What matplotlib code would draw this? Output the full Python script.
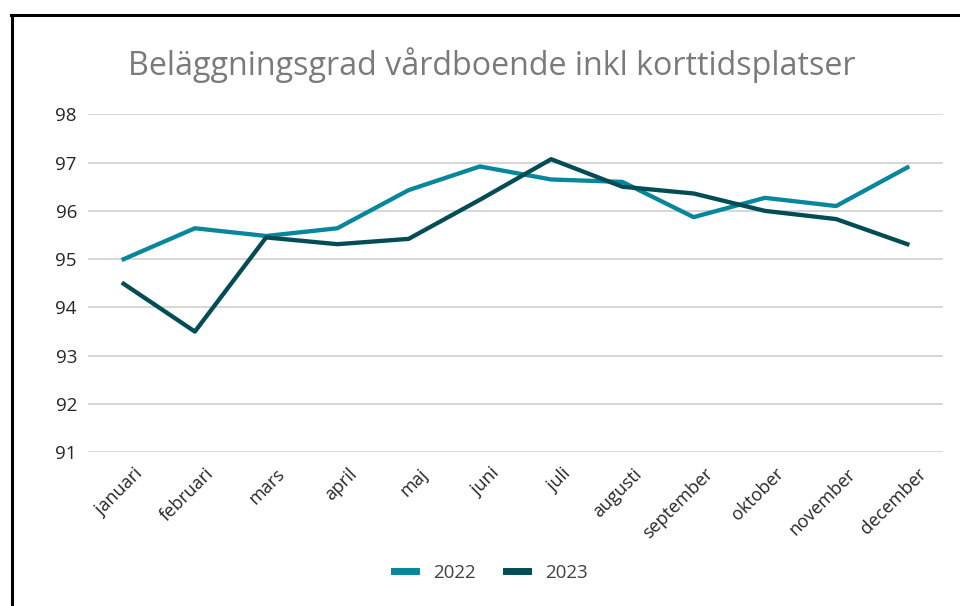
import matplotlib
matplotlib.use("Agg")
import matplotlib.pyplot as plt
import matplotlib.transforms as mtransforms
from matplotlib.lines import Line2D

plt.rcParams['font.family'] = ['Open Sans', 'DejaVu Sans']

months = ["januari", "februari", "mars", "april", "maj", "juni",
          "juli", "augusti", "september", "oktober", "november", "december"]
y2022 = [95.0, 95.64, 95.48, 95.64, 96.43, 96.92, 96.65, 96.6, 95.87, 96.27, 96.1, 96.9]
y2023 = [94.49, 93.5, 95.45, 95.31, 95.42, 96.23, 97.07, 96.5, 96.36, 96.0, 95.83, 95.31]
yticks = [91, 92, 93, 94, 95, 96, 97, 98]

C2022 = "#08879c"
C2023 = "#024c55"

fig = plt.figure(figsize=(9.6, 6.06), dpi=100)
W, H = 960, 606
# axes box in pixels: x 88..943, y 114..452
ax = fig.add_axes([88 / W, 1 - 452.3 / H, (943 - 88) / W, (452.3 - 114.3) / H])

x = list(range(len(months)))
ax.plot(x, y2022, color=C2022, lw=3.1, label="2022")
ax.plot(x, y2023, color=C2023, lw=3.1, label="2023")

ax.set_xlim(-0.5, len(months) - 0.5)
ax.set_ylim(91, 98)
ax.set_yticks(yticks)
ax.set_xticks(x)
ax.set_xticklabels(months, rotation=45, ha="right", rotation_mode="anchor",
                   fontsize=13, color="#262626")
ax.tick_params(axis="y", labelsize=13.5, labelcolor="#262626", length=0, pad=8)
ax.tick_params(axis="x", length=0, pad=9)
# shift month labels a little to the right, like the original
offset = mtransforms.ScaledTranslation(10 / 100, 0, fig.dpi_scale_trans)
for lab in ax.get_xticklabels():
    lab.set_transform(lab.get_transform() + offset)
ax.grid(axis="y", color="#d0d0d0", lw=1.2)
ax.set_axisbelow(True)
for s in ax.spines.values():
    s.set_visible(False)

fig.text(492 / W, 1 - 65 / H, "Beläggningsgrad vårdboende inkl korttidsplatser",
         ha="center", va="center", fontsize=23.2, color="#7a7a7a")

leg = fig.legend(loc="center", bbox_to_anchor=(491 / W, 1 - 573 / H), ncol=2,
                 frameon=False, fontsize=13.5, handlelength=1.15, handletextpad=0.9,
                 columnspacing=1.65)
for h in leg.get_lines():
    h.set_linewidth(5)
for t in leg.get_texts():
    t.set_color("#404040")

# frame: only left and top edges visible
fig.add_artist(Line2D([12 / W, 12 / W], [0, 1 - 15 / H], transform=fig.transFigure,
                      color="black", lw=2.2))
fig.add_artist(Line2D([11 / W, 1], [1 - 15 / H, 1 - 15 / H], transform=fig.transFigure,
                      color="black", lw=2.2))

fig.savefig("out.png", dpi=100)
